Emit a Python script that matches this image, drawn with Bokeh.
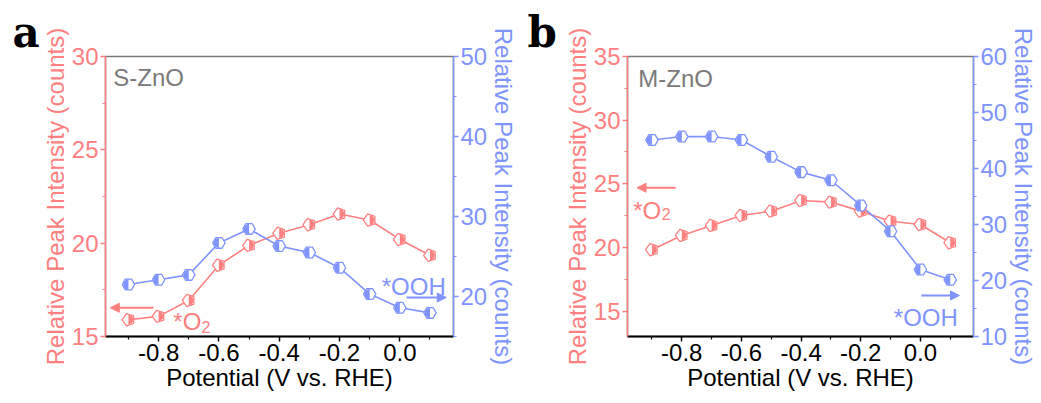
import math
from bokeh.plotting import figure
from bokeh.models import (Range1d, LinearAxis, FixedTicker, SingleIntervalTicker,
                          Arrow, NormalHead, Label, ColumnDataSource, PrintfTickFormatter)
from bokeh.layouts import row
from bokeh.embed import file_html
from bokeh.resources import INLINE

# ---------------- data ----------------
potential = [-0.9, -0.8, -0.7, -0.6, -0.5, -0.4, -0.3, -0.2, -0.1, 0.0, 0.1]
s_zno_o2 = [15.90, 16.08, 16.93, 18.82, 19.88, 20.53, 20.99, 21.56, 21.24, 20.20, 19.35]
s_zno_ooh = [21.5, 22.1, 22.7, 26.7, 28.45, 26.3, 25.5, 23.6, 20.3, 18.6, 17.95]
m_zno_o2 = [19.82, 20.94, 21.72, 22.51, 22.85, 23.69, 23.56, 22.85, 22.06, 21.80, 20.37]
m_zno_ooh = [45.1, 45.7, 45.7, 45.1, 42.1, 39.35, 37.9, 33.4, 28.8, 21.96, 20.12]

x_major = [-0.8, -0.6, -0.4, -0.2, 0.0]
x_minor = [-0.9, -0.7, -0.5, -0.3, -0.1, 0.1]

RED = "#FF8080"
BLUE = "#8094FF"
GRAY = "#7A7A7A"
FONT = "Liberation Sans"
FS = "24px"


def style_axis(ax, c, line_w):
    ax.axis_line_color = c
    ax.axis_line_width = line_w
    ax.major_tick_line_color = c
    ax.minor_tick_line_color = c
    ax.major_tick_line_width = 1.5
    ax.minor_tick_line_width = 1.2
    ax.major_tick_out = 5
    ax.major_tick_in = 0
    ax.minor_tick_out = 3
    ax.minor_tick_in = 0
    ax.major_label_text_font = FONT
    ax.major_label_text_font_size = FS
    ax.major_label_text_color = c
    ax.axis_label_text_font = FONT
    ax.axis_label_text_font_size = FS
    ax.axis_label_text_font_style = "normal"
    ax.axis_label_text_color = c
    ax.major_label_standoff = 2
    ax.axis_label_standoff = 0


def make_panel(letter, letter_offset, sample, o2, ooh, xr, lr, rr, l_int, r_int, width, borders, ann):
    bl, br, bt, bb = borders
    p = figure(width=width, height=403, x_range=Range1d(*xr), y_range=Range1d(*lr),
               output_backend="svg", toolbar_location=None,
               min_border_left=bl, min_border_right=br, min_border_top=bt, min_border_bottom=bb)
    p.extra_y_ranges = {"right": Range1d(*rr)}
    p.grid.visible = False
    p.outline_line_color = GRAY
    p.outline_line_width = 1.5
    p.background_fill_color = "white"
    p.border_fill_color = "white"

    # panel letter as title
    p.title.text = letter
    p.title.align = "left"
    p.title.offset = letter_offset
    p.title.standoff = 0
    p.title.text_font = "DejaVu Serif"
    p.title.text_font_style = "bold"
    p.title.text_font_size = "42px"
    p.title.text_color = "black"

    # bottom axis
    xa = p.xaxis[0]
    xa.ticker = FixedTicker(ticks=x_major, minor_ticks=x_minor)
    xa.formatter = PrintfTickFormatter(format="%.1f")
    xa.axis_label = "Potential (V vs. RHE)"
    style_axis(xa, "black", 2)

    # left axis
    ya = p.yaxis[0]
    ya.ticker = SingleIntervalTicker(interval=l_int, num_minor_ticks=2)
    ya.axis_label = "Relative Peak Intensity (counts)"
    style_axis(ya, RED, 1.5)
    # right axis
    ra = LinearAxis(y_range_name="right", ticker=SingleIntervalTicker(interval=r_int, num_minor_ticks=2),
                    axis_label="Relative Peak Intensity (counts)")
    style_axis(ra, BLUE, 1.5)
    p.add_layout(ra, "right")

    src = ColumnDataSource(dict(x=potential, o2=o2, ooh=ooh))

    # lines
    p.line("x", "o2", source=src, line_color=RED, line_width=1.6)
    p.line("x", "ooh", source=src, line_color=BLUE, line_width=1.6, y_range_name="right")

    # markers: white pentagon / hexagon with half fill
    p.ngon("x", "o2", source=src, radius=6.4, radius_units="screen", n=5, angle=math.pi / 2,
           fill_color="white", line_color=RED, line_width=1.3)
    p.wedge("x", "o2", source=src, radius=4.8, radius_units="screen",
            start_angle=-math.pi / 2, end_angle=math.pi / 2,
            fill_color=RED, line_color=None)
    p.ngon("x", "ooh", source=src, radius=6.2, radius_units="screen", n=6, angle=math.pi / 2,
           fill_color="white", line_color=BLUE, line_width=1.3, y_range_name="right")
    p.wedge("x", "ooh", source=src, radius=5.2, radius_units="screen",
            start_angle=math.pi / 2, end_angle=3 * math.pi / 2,
            fill_color=BLUE, line_color=None, y_range_name="right")

    # annotations
    p.add_layout(Label(x=ann["sample"][0], y=ann["sample"][1], text=sample,
                       text_font=FONT, text_font_size=FS, text_color=GRAY, text_baseline="top"))
    p.add_layout(Label(x=ann["o2"][0], y=ann["o2"][1], text="*O",
                       text_font=FONT, text_font_size=FS, text_color=RED, text_baseline="top"))
    p.add_layout(Label(x=ann["o2sub"][0], y=ann["o2sub"][1], text="2",
                       text_font=FONT, text_font_size="16px", text_color=RED, text_baseline="top"))
    p.add_layout(Label(x=ann["ooh"][0], y=ann["ooh"][1], text="*OOH", y_range_name="right",
                       text_font=FONT, text_font_size=FS, text_color=BLUE, text_baseline="top"))
    ra_ = ann["red_arrow"]
    p.add_layout(Arrow(x_start=ra_[0], x_end=ra_[1], y_start=ra_[2], y_end=ra_[2],
                       line_color=RED, line_width=2,
                       end=NormalHead(size=9, fill_color=RED, line_color=RED)))
    ba_ = ann["blue_arrow"]
    p.add_layout(Arrow(x_start=ba_[0], x_end=ba_[1], y_start=ba_[2], y_end=ba_[2],
                       line_color=BLUE, line_width=2, y_range_name="right",
                       end=NormalHead(size=9, fill_color=BLUE, line_color=BLUE)))
    return p


pa = make_panel("a", -93, "S-ZnO", s_zno_o2, s_zno_ooh,
                xr=(-0.976, 0.178), lr=(15, 30), rr=(15, 50), l_int=5, r_int=10,
                width=520, borders=(105, 66, 54, 66),
                ann=dict(sample=(-0.95, 29.6),
                         o2=(-0.751, 16.55), o2sub=(-0.658, 15.85),
                         ooh=(-0.060, 22.95),
                         red_arrow=(-0.817, -0.96, 16.54),
                         blue_arrow=(0.022, 0.154, 19.88)))

pb = make_panel("b", -100, "M-ZnO", m_zno_o2, m_zno_ooh,
                xr=(-0.982, 0.178), lr=(13, 35), rr=(10, 60), l_int=5, r_int=10,
                width=521, borders=(107, 68, 56, 67),
                ann=dict(sample=(-0.946, 34.3),
                         o2=(-0.963, 23.95), o2sub=(-0.867, 23.1),
                         ooh=(-0.089, 15.75),
                         red_arrow=(-0.82, -0.95, 24.69),
                         blue_arrow=(0.003, 0.131, 17.32)))

layout = row(pa, pb)
open("out.html", "w").write(file_html(layout, INLINE))
